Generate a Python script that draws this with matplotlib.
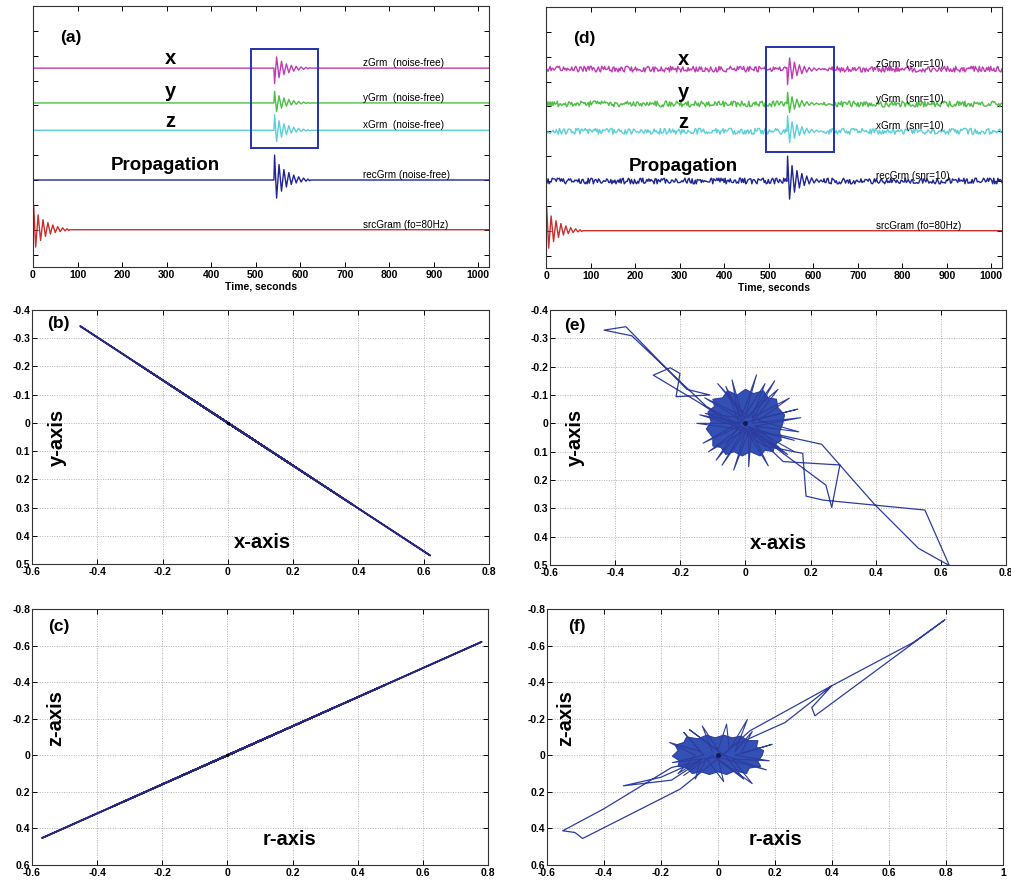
import numpy as np
import matplotlib
matplotlib.use("Agg")
import matplotlib.pyplot as plt
from matplotlib.patches import Rectangle, Polygon
from matplotlib.ticker import FuncFormatter

plt.rcParams['font.family'] = ['Liberation Sans', 'DejaVu Sans']

# ---------------------------------------------------------------- data
# damped source pulse: extrema (time after onset in s, normalised amplitude)
WAV_T = [0, 1.5, 6, 11.5, 17, 22.5, 28, 33.5, 39, 44.5, 50, 55.5, 61, 66.5, 72, 76.5, 80, 83]
WAV_A = [0, 1.0, -0.73, 0.62, -0.45, 0.42, -0.28, 0.30, -0.18, 0.20, -0.12, 0.13,
         -0.08, 0.08, -0.05, 0.04, -0.03, 0]

ARRIVAL = 541          # s, onset of the propagated pulse
T_END = 1024           # s

# component amplitudes of the received pulse
GAIN_X, GAIN_Y, GAIN_Z, GAIN_R = 0.62, 0.47, -0.62, 0.78
REC_GAIN = 1.0
SRC_GAIN = 0.96

TRACE_NAMES = ['z', 'y', 'x', 'rec', 'src']
TRACE_GAINS = [GAIN_Z, GAIN_Y, GAIN_X, REC_GAIN, SRC_GAIN]
LABELS_CLEAN = ['zGrm  (noise-free)', 'yGrm  (noise-free)', 'xGrm  (noise-free)',
                'recGrm (noise-free)', 'srcGram (fo=80Hz)']
LABELS_NOISY = ['zGrm  (snr=10)', 'yGrm  (snr=10)', 'xGrm  (snr=10)',
                'recGrm (snr=10)', 'srcGram (fo=80Hz)']

# additive noise samples (one digit per sample, 0..9 about a 4.5 mean)
NOISE_Z = ("14159265358979323846264338327950288419716939937510582097494459230781640628"
           "62089986280348253421170679821480865132823066470938446095505822317253594081"
           "28481117450284102701938521105559644622948954930381964428810975665933446128"
           "47564823378678316527120190914564856692346034861045432664821339360726024914"
           "12737245870066063155881748815209209628292540917153643678925903600113305305"
           "48820466521384146951941511609433057270365759591953092186117381932611793105")
NOISE_Y = ("71828182845904523536028747135266249775724709369995957496696762772407663035"
           "35475945713821785251664274274663919320030599218174135966290435729003342952"
           "60595630738132328627943490763233829880753195251019011573834187930702154089"
           "14993488416750924476146066808226480016847741185374234544243710753907774499"
           "20695517027618386062613313845830007520449338265602976067371132007093287091"
           "27443747047230696977209310141692836819025515108657463772111252389784425056")
NOISE_X = ("41421356237309504880168872420969807856967187537694807317667973799073247846"
           "21070388503875343276415727350138462309122970249248360558507372126441214970"
           "99935831413222665927505592755799950501152782060571470109559971605970274534"
           "59686201472851741864088919860955232923048430871432145083976260362799525140"
           "79896872533965463318088296406206152583523950547457502877599617298355752203"
           "37531857011354374603408498847160386899970699004815030544027790316454247823")
NOISE_R = ("61803398874989484820458683436563811772030917980576286213544862270526046281"
           "89024497072072041893911374847540880753868917521266338622235369317931800607"
           "66726354433389086595939582905638322661319928290267880675208766892501711696"
           "08942752194843530567830022878569978297783478458782289110976250030269615617"
           "00250464338243776486102838312683303724292675263116533924731671112115881863"
           "85133162038400522216579128667529465490681131715993432359734949850904094762")
NOISE_STEP = 0.025

# noisy hodogram (e): large excursions of the particle motion
PATH_E_X = [0.02, 0.116, 0.29, 0.321, 0.398, 0.531, 0.626, 0.551, 0.239, 0.186, 0.176,
            0.06, -0.139, -0.283, -0.231, -0.201, -0.213, -0.109, -0.18, -0.367, -0.434,
            -0.349, -0.12, 0.05, 0.247, 0.265, 0.29, 0.234, 0.10]
PATH_E_Y = [0.03, 0.135, 0.147, 0.188, 0.288, 0.441, 0.502, 0.306, 0.271, 0.257, 0.106,
            0.08, -0.071, -0.170, -0.196, -0.176, -0.094, -0.10, -0.12, -0.341, -0.329,
            -0.309, -0.06, 0.05, 0.218, 0.297, 0.147, 0.074, 0.04]
# noise cloud (e): outline of the dense core and its spikes
CORE_E_X = [0.115, 0.105, 0.110, 0.090, 0.085, 0.060, 0.045, 0.015, -0.010, -0.035, -0.060,
            -0.075, -0.100, -0.100, -0.120, -0.105, -0.115, -0.095, -0.100, -0.070, -0.055,
            -0.025, 0.000, 0.025, 0.055, 0.070, 0.095, 0.100, 0.120]
CORE_E_Y = [0.000, 0.030, 0.060, 0.075, 0.100, 0.095, 0.115, 0.100, 0.115, 0.100, 0.110,
            0.085, 0.080, 0.050, 0.020, -0.005, -0.040, -0.060, -0.085, -0.090, -0.115,
            -0.100, -0.120, -0.105, -0.115, -0.090, -0.085, -0.055, -0.030]
SPIKE_E_X = [0.03, 0.164, 0.04, 0.135, 0.02, 0.06, 0.0, 0.034, -0.01, -0.041, -0.02,
             -0.123, -0.03, -0.149, -0.02, -0.113, -0.01, -0.072, 0.0, -0.036, 0.01, 0.01,
             0.02, 0.118, 0.03, 0.17, 0.02, 0.10, -0.02, -0.06, 0.0, 0.15, 0.01, 0.13,
             -0.01, -0.09, -0.02, -0.13, -0.01, -0.125, 0.0, -0.085, 0.01, 0.09, 0.02,
             0.16, -0.01, -0.14, 0.0, 0.07, 0.01, 0.15]
SPIKE_E_Y = [0.01, 0.03, -0.01, -0.089, -0.02, -0.14, -0.03, -0.171, -0.03, -0.153, -0.02,
             -0.035, 0.0, 0.0, 0.02, 0.10, 0.03, 0.148, 0.03, 0.165, 0.03, 0.153, 0.02,
             0.10, 0.01, -0.02, 0.0, -0.12, 0.0, -0.13, 0.01, 0.06, 0.02, 0.11, 0.02,
             0.13, 0.01, 0.07, -0.01, -0.09, -0.02, -0.14, -0.02, -0.15, -0.01, -0.05,
             0.0, -0.03, 0.02, 0.15, 0.01, 0.10]

# noisy hodogram (f)
PATH_F_X = [0.05, 0.235, 0.399, 0.685, 0.796, 0.34, 0.329, 0.399, 0.112, 0.03, -0.133,
            -0.475, -0.502, -0.545, -0.402, -0.163, -0.06, -0.163, -0.332, -0.20, -0.10]
PATH_F_Y = [-0.05, -0.179, -0.38, -0.617, -0.741, -0.216, -0.261, -0.38, -0.134, -0.02,
            0.185, 0.455, 0.422, 0.413, 0.294, 0.067, 0.03, 0.136, 0.167, 0.12, 0.05]
CORE_F_X = [0.155, 0.140, 0.150, 0.110, 0.100, 0.060, 0.030, 0.000, -0.030, -0.060, -0.090,
            -0.110, -0.140, -0.135, -0.160, -0.140, -0.150, -0.120, -0.110, -0.070, -0.040,
            -0.010, 0.020, 0.050, 0.080, 0.105, 0.140, 0.135, 0.160]
CORE_F_Y = [0.000, 0.035, 0.060, 0.070, 0.100, 0.085, 0.105, 0.090, 0.105, 0.090, 0.100,
            0.070, 0.060, 0.030, 0.005, -0.025, -0.055, -0.070, -0.100, -0.090, -0.110,
            -0.095, -0.110, -0.095, -0.105, -0.080, -0.080, -0.045, -0.025]
SPIKE_F_X = [-0.02, -0.055, 0.0, 0.03, 0.04, 0.103, 0.06, 0.12, 0.08, 0.19, 0.06, 0.18,
             0.05, 0.12, 0.0, 0.02, -0.04, -0.08, -0.06, -0.14, -0.08, -0.17, -0.06,
             -0.12, -0.05, -0.16, 0.0, 0.17, 0.02, -0.10, 0.03, 0.09, -0.02, -0.12]
SPIKE_F_Y = [-0.02, -0.16, -0.03, -0.17, -0.03, -0.196, -0.02, -0.13, -0.01, -0.06, 0.0,
             0.03, 0.02, 0.155, 0.02, 0.144, 0.02, 0.13, 0.02, 0.10, 0.0, -0.07, -0.02,
             -0.125, 0.0, 0.04, 0.01, 0.08, 0.0, -0.14, 0.01, 0.13, 0.0, 0.11]

# ---------------------------------------------------------------- styles
COLORS = ['#c03cb3', '#4dbf46', '#5ccfd8', '#202494', '#c8302f']
BASELINES = [7.5, 6.1, 5.0, 3.0, 1.0]
BOX_BLUE = '#2433b0'
HODO_LINE = '#27287e'
HODO_NOISY = '#2c3d9f'
CLOUD_FILL = '#3350b5'

W_PX, H_PX = 1011, 880
fig = plt.figure(figsize=(W_PX / 100, H_PX / 100), dpi=100)


def add_axes_px(left, top, right, bottom):
    return fig.add_axes([left / W_PX, 1 - bottom / H_PX, (right - left) / W_PX,
                         (bottom - top) / H_PX])


def fmt(v, _):
    v = round(v, 6)
    if abs(v) < 1e-9:
        return '0'
    return '%g' % v


def style_box(ax):
    for s in ax.spines.values():
        s.set_linewidth(0.8)
        s.set_color('#333333')
    ax.tick_params(direction='in', length=3.5, width=0.7, top=True, right=True,
                   labelsize=7.5, pad=2)
    for lab in ax.get_xticklabels() + ax.get_yticklabels():
        lab.set_fontweight('bold')


wav_t = np.array(WAV_T, dtype=float)
wav_a = np.array(WAV_A, dtype=float)


def clean_trace(onset, gain):
    t = np.concatenate([[0.0], onset + wav_t, [T_END]])
    v = np.concatenate([[0.0], gain * wav_a, [0.0]])
    if onset == 0:
        t, v = t[1:], v[1:]
    return t, v


def noisy_trace(onset, gain, digits):
    tn = np.linspace(0, T_END, len(digits))
    vn = (np.array([int(c) for c in digits]) - 4.5) * NOISE_STEP
    tw = onset + wav_t
    vw = gain * wav_a
    keep = (tn < tw[0]) | (tn > tw[-1])
    t = np.concatenate([tn[keep], tw])
    v = np.concatenate([vn[keep], vw])
    order = np.argsort(t)
    return t[order], v[order]


def seismogram_panel(ax, labels, noisy, tag, box, prop_t):
    noise_sets = [NOISE_Z, NOISE_Y, NOISE_X, NOISE_R, None]
    for i in range(5):
        onset = 0 if TRACE_NAMES[i] == 'src' else ARRIVAL
        if noisy and noise_sets[i] is not None:
            t, v = noisy_trace(onset, TRACE_GAINS[i], noise_sets[i])
        else:
            t, v = clean_trace(onset, TRACE_GAINS[i])
        ax.plot(t, BASELINES[i] + v, color=COLORS[i], lw=1.0)
        ax.text(742, BASELINES[i] + 0.2, labels[i], fontsize=7.2, va='center', ha='left')
    ax.set_xlim(0, T_END)
    ax.set_ylim(-0.5, 10)
    ax.set_xticks(np.arange(0, 1001, 100))
    ax.set_yticks(np.arange(0, 10))
    ax.set_yticklabels([])
    ax.set_xlabel('Time, seconds', fontsize=7.5, fontweight='bold', labelpad=1)
    style_box(ax)
    ax.add_patch(Rectangle((box[0], box[1]), box[2] - box[0], box[3] - box[1],
                           fill=False, ec=BOX_BLUE, lw=1.4, zorder=5))
    ax.text(85, 8.75, tag, fontsize=12.5, fontweight='bold', ha='center', va='center')
    ax.text(308, 7.9, 'x', fontsize=14.5, fontweight='bold', ha='center', va='center')
    ax.text(308, 6.55, 'y', fontsize=14.5, fontweight='bold', ha='center', va='center')
    ax.text(308, 5.35, 'z', fontsize=14.5, fontweight='bold', ha='center', va='center')
    ax.text(prop_t, 3.6, 'Propagation', fontsize=13.5, fontweight='bold', ha='left',
            va='center')


def hodogram_panel(ax, xlim, ylim, ystep, tag, ylab, xlab, pos):
    ax.set_xlim(*xlim)
    ax.set_ylim(ylim[1], ylim[0])
    ax.set_xticks(np.arange(xlim[0], xlim[1] + 1e-9, 0.2))
    ax.set_yticks(np.arange(ylim[0], ylim[1] + 1e-9, ystep))
    ax.xaxis.set_major_formatter(FuncFormatter(fmt))
    ax.yaxis.set_major_formatter(FuncFormatter(fmt))
    ax.grid(True, ls=(0, (1, 1.5)), color='#b0b0b0', lw=0.7)
    ax.set_axisbelow(True)
    style_box(ax)
    ax.tick_params(axis='y', pad=1)
    ax.tick_params(axis='x', pad=2)
    ax.text(pos[0][0], pos[0][1], tag, transform=ax.transAxes, fontsize=12.5,
            fontweight='bold', ha='left', va='center')
    ax.text(pos[1][0], pos[1][1], ylab, transform=ax.transAxes, fontsize=14.5,
            fontweight='bold', ha='center', va='center', rotation=90)
    ax.text(pos[2][0], pos[2][1], xlab, transform=ax.transAxes, fontsize=14.5,
            fontweight='bold', ha='center', va='center')


# ---------------------------------------------------------------- (a) and (d)
ax_a = add_axes_px(33, 6, 489, 267)
seismogram_panel(ax_a, LABELS_CLEAN, False, '(a)', (490, 4.28, 640, 8.26), 175)
ax_d = add_axes_px(546, 7, 1002, 268)
seismogram_panel(ax_d, LABELS_NOISY, True, '(d)', (494, 4.18, 647, 8.4), 185)

# ---------------------------------------------------------------- (b) and (c)
ax_b = add_axes_px(32, 310, 489, 564)
hodogram_panel(ax_b, (-0.6, 0.8), (-0.4, 0.5), 0.1, '(b)', 'y-axis', 'x-axis',
               [(0.033, 0.945), (0.055, 0.5), (0.505, 0.085)])
ax_b.plot(GAIN_X * wav_a, GAIN_Y * wav_a, color=HODO_LINE, lw=1.3)
ax_b.plot([0], [0], marker='.', color='k', ms=3)

ax_c = add_axes_px(32, 609, 488, 865)
hodogram_panel(ax_c, (-0.6, 0.8), (-0.8, 0.6), 0.2, '(c)', 'z-axis', 'r-axis',
               [(0.035, 0.93), (0.052, 0.574), (0.564, 0.098)])
ax_c.plot(GAIN_R * wav_a, GAIN_Z * wav_a, color=HODO_LINE, lw=1.3)
ax_c.plot([0], [0], marker='.', color='k', ms=3)

# ---------------------------------------------------------------- (e) and (f)
ax_e = add_axes_px(550, 310, 1006, 565)
hodogram_panel(ax_e, (-0.6, 0.8), (-0.4, 0.5), 0.1, '(e)', 'y-axis', 'x-axis',
               [(0.031, 0.94), (0.055, 0.5), (0.502, 0.086)])
ax_e.add_patch(Polygon(np.column_stack([CORE_E_X, CORE_E_Y]), closed=True,
                       fc=CLOUD_FILL, ec=HODO_NOISY, lw=0.8, zorder=3))
ax_e.plot(SPIKE_E_X, SPIKE_E_Y, color=HODO_NOISY, lw=0.8, zorder=3)
ax_e.plot(PATH_E_X, PATH_E_Y, color=HODO_NOISY, lw=0.9, zorder=3)
ax_e.plot([0], [0], marker='o', color='#131a55', ms=2.5, zorder=4)

ax_f = add_axes_px(547, 609, 1003, 865)
hodogram_panel(ax_f, (-0.6, 1.0), (-0.8, 0.6), 0.2, '(f)', 'z-axis', 'r-axis',
               [(0.046, 0.93), (0.042, 0.574), (0.5, 0.098)])
ax_f.add_patch(Polygon(np.column_stack([CORE_F_X, CORE_F_Y]), closed=True,
                       fc=CLOUD_FILL, ec=HODO_NOISY, lw=0.8, zorder=3))
ax_f.plot(SPIKE_F_X, SPIKE_F_Y, color=HODO_NOISY, lw=0.8, zorder=3)
ax_f.plot(PATH_F_X, PATH_F_Y, color=HODO_NOISY, lw=0.9, zorder=3)
ax_f.plot([0], [0], marker='o', color='#131a55', ms=2.5, zorder=4)

fig.savefig('out.png', dpi=100)
